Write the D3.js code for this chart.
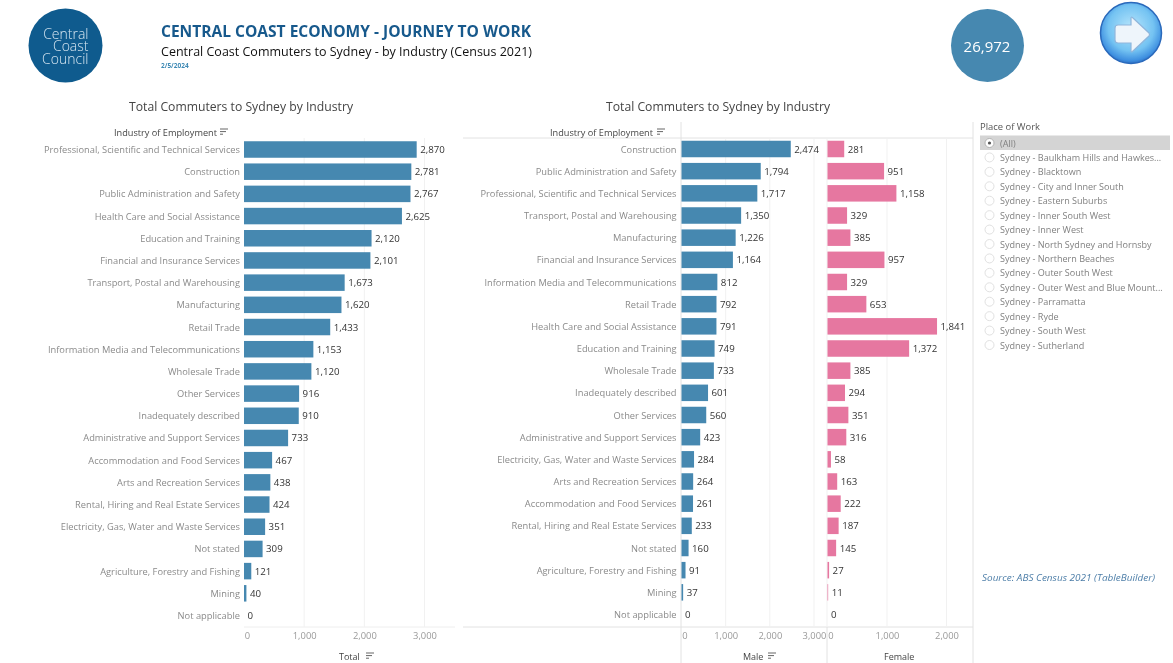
<!DOCTYPE html>
<html><head><meta charset="utf-8">
<script src="https://d3js.org/d3.v7.min.js"></script>
<style>
html,body{margin:0;padding:0;background:#fff}
svg{display:block;filter:blur(0.35px)}
text{font-family:"Open Sans",sans-serif}
</style></head><body>
<svg id="c" width="1173" height="663"></svg>
<script>
const totalIndustries=["Professional, Scientific and Technical Services","Construction","Public Administration and Safety","Health Care and Social Assistance","Education and Training","Financial and Insurance Services","Transport, Postal and Warehousing","Manufacturing","Retail Trade","Information Media and Telecommunications","Wholesale Trade","Other Services","Inadequately described","Administrative and Support Services","Accommodation and Food Services","Arts and Recreation Services","Rental, Hiring and Real Estate Services","Electricity, Gas, Water and Waste Services","Not stated","Agriculture, Forestry and Fishing","Mining","Not applicable"];
const totalValues=[2870,2781,2767,2625,2120,2101,1673,1620,1433,1153,1120,916,910,733,467,438,424,351,309,121,40,0];
const genderIndustries=["Construction","Public Administration and Safety","Professional, Scientific and Technical Services","Transport, Postal and Warehousing","Manufacturing","Financial and Insurance Services","Information Media and Telecommunications","Retail Trade","Health Care and Social Assistance","Education and Training","Wholesale Trade","Inadequately described","Other Services","Administrative and Support Services","Electricity, Gas, Water and Waste Services","Arts and Recreation Services","Accommodation and Food Services","Rental, Hiring and Real Estate Services","Not stated","Agriculture, Forestry and Fishing","Mining","Not applicable"];
const maleValues=[2474,1794,1717,1350,1226,1164,812,792,791,749,733,601,560,423,284,264,261,233,160,91,37,0];
const femaleValues=[281,951,1158,329,385,957,329,653,1841,1372,385,294,351,316,58,163,222,187,145,27,11,0];
const places=["(All)","Sydney - Baulkham Hills and Hawkes...","Sydney - Blacktown","Sydney - City and Inner South","Sydney - Eastern Suburbs","Sydney - Inner South West","Sydney - Inner West","Sydney - North Sydney and Hornsby","Sydney - Northern Beaches","Sydney - Outer South West","Sydney - Outer West and Blue Mount...","Sydney - Parramatta","Sydney - Ryde","Sydney - South West","Sydney - Sutherland"];
const logoLines=["Central","Coast","Council"];
const totalTicks=[0,1000,2000,3000], maleTicks=[0,1000,2000,3000], femaleTicks=[0,1000,2000];
const grandTotal=26972;

const BLUE="#4688b0", PINK="#e677a0", fmt=d3.format(",");
const svg=d3.select("#c");
const defs=svg.append("defs");
const g1=defs.append("radialGradient").attr("id","btn").attr("cx","0.5").attr("cy","0.42").attr("r","0.6");
g1.append("stop").attr("offset","0").attr("stop-color","#b8e6fc");
g1.append("stop").attr("offset","0.62").attr("stop-color","#74c3f2");
g1.append("stop").attr("offset","0.88").attr("stop-color","#3f90e0");
g1.append("stop").attr("offset","1").attr("stop-color","#2566bd");

function txt(x,y,s,o={}){
  const t=svg.append("text").attr("x",x).attr("y",y).text(s)
   .attr("font-size",o.size||10).attr("fill",o.fill||"#333")
   .attr("text-anchor",o.anchor||"start").attr("dominant-baseline","central");
  if(o.weight)t.attr("font-weight",o.weight);
  if(o.style)t.attr("font-style",o.style);
  if(o.len)t.attr("textLength",o.len).attr("lengthAdjust","spacingAndGlyphs");
  return t;
}
function sortIcon(x,y){
  [[0,8],[0,6],[0,3]].forEach((d,i)=>svg.append("line").attr("x1",x+d[0]).attr("x2",x+d[1]).attr("y1",y+i*2.6).attr("y2",y+i*2.6).attr("stroke","#555").attr("stroke-width",.9));
}
// header
svg.append("circle").attr("cx",65.5).attr("cy",45.5).attr("r",37).attr("fill","#0f5b8e");
const logo=svg.append("text").attr("font-size",14).attr("font-weight",300).attr("fill","#d5e5f0").attr("text-anchor","end");
logo.selectAll("tspan").data(logoLines).join("tspan").attr("x",88.5).attr("y",(d,i)=>38.5+i*12.5).text(d=>d);
txt(161,31,"CENTRAL COAST ECONOMY - JOURNEY TO WORK",{size:16,fill:"#17598c",weight:700,len:370});
txt(161,51,"Central Coast Commuters to Sydney - by Industry (Census 2021)",{size:13,fill:"#111",len:371});
txt(161,65,"2/5/2024",{size:6.5,fill:"#3f8ab5",weight:700});
svg.append("circle").attr("cx",987.5).attr("cy",45.5).attr("r",36.5).attr("fill",BLUE);
txt(987,46,fmt(grandTotal),{size:15,fill:"#fff",anchor:"middle"});
svg.append("circle").attr("cx",1131).attr("cy",33).attr("r",30.5).attr("fill","url(#btn)").attr("stroke","#2a69bb").attr("stroke-width",1.5);
svg.append("path").attr("d","M1118 25 H1131 V18 Q1131 16 1133 18 L1149 33 Q1150 34.5 1149 36 L1133 51 Q1131 53 1131 51 V43 H1118 Q1115 43 1115 40 V28 Q1115 25 1118 25Z").attr("fill","#eef5fb").attr("stroke","#8fb6dc").attr("stroke-width",1.2);
// section titles
txt(129,106,"Total Commuters to Sydney by Industry",{size:12.5,fill:"#444",len:224});
txt(606,106,"Total Commuters to Sydney by Industry",{size:12.5,fill:"#444",len:224});
// frame lines
const rule=(x1,y1,x2,y2,c="#e2e2e2")=>svg.append("line").attr("x1",x1).attr("y1",y1).attr("x2",x2).attr("y2",y2).attr("stroke",c).attr("stroke-width",1);
rule(463,138,973,138); rule(463,627,973,627); rule(244,627,455,627,"#eeeeee");
rule(681,122,681,663); rule(827,627,827,663); rule(973,122,973,663); rule(827,138,827,627,"#f1f1f1");

function panel(cfg){
  const x=d3.scaleLinear().domain([0,cfg.ticks[cfg.ticks.length-1]]).range([cfg.x0,cfg.x1]);
  const y=d3.scalePoint().domain(cfg.cats).range(cfg.yr);
  const barH=16.5;
  cfg.ticks.slice(1).forEach(t=>rule(x(t),cfg.gridTop,x(t),627,"#f1f1f1"));
  const g=svg.append("g");
  g.selectAll("rect").data(cfg.vals).join("rect")
   .attr("x",cfg.x0).attr("y",(d,i)=>y(cfg.cats[i])-barH/2)
   .attr("width",d=>x(d)-cfg.x0).attr("height",barH).attr("fill",cfg.color);
  svg.append("g").selectAll("text").data(cfg.vals).join("text")
   .attr("x",d=>x(d)+3.5).attr("y",(d,i)=>y(cfg.cats[i])).attr("dominant-baseline","central")
   .attr("font-size",9.7).attr("fill","#333").text(d=>fmt(d));
  if(cfg.showCats) svg.append("g").selectAll("text").data(cfg.cats).join("text")
   .attr("x",cfg.labelX).attr("y",d=>y(d)).attr("text-anchor","end").attr("dominant-baseline","central")
   .attr("font-size",9.3).attr("fill","#8a8a8a").text(d=>d);
  const ax=svg.append("g").attr("transform","translate(0,627)")
    .call(d3.axisBottom(x).tickValues(cfg.ticks).tickSize(0).tickPadding(5).tickFormat(fmt));
  ax.select(".domain").remove();
  ax.selectAll("text").attr("font-size",9.4).attr("fill","#9a9a9a").attr("font-family",'"Open Sans",sans-serif')
    .attr("dx",d=>d===0?3:0);
}
panel({cats:totalIndustries,vals:totalValues,ticks:totalTicks,x0:244,x1:424.5,yr:[149.5,615.5],color:BLUE,showCats:true,labelX:240,gridTop:138});
panel({cats:genderIndustries,vals:maleValues,ticks:maleTicks,x0:681.5,x1:814,yr:[149,614.5],color:BLUE,showCats:true,labelX:676.5,gridTop:138});
panel({cats:genderIndustries,vals:femaleValues,ticks:femaleTicks,x0:827.5,x1:946.5,yr:[149,614.5],color:PINK,showCats:false,gridTop:138});
// axis & field titles
txt(114,132,"Industry of Employment",{size:9,fill:"#444",len:103}); sortIcon(220,129);
txt(550,132,"Industry of Employment",{size:9,fill:"#444",len:103}); sortIcon(657,129);
txt(339,656.5,"Total",{size:9,fill:"#444"}); sortIcon(366,653);
txt(743,656.5,"Male",{size:9,fill:"#444"}); sortIcon(768,653);
txt(884,656.5,"Female",{size:9,fill:"#444"});
// filter
txt(980,126,"Place  of Work",{size:9,fill:"#555",len:60});
svg.append("rect").attr("x",980).attr("y",135.5).attr("width",190).attr("height",14.5).attr("fill","#d4d4d4");
const py=d3.scalePoint().domain(places).range([143,345]);
places.forEach((p,i)=>{
  svg.append("circle").attr("cx",989.5).attr("cy",py(p)).attr("r",4.5).attr("fill","#fff").attr("stroke",i?"#dcdcdc":"#aaa").attr("stroke-width",.9);
  if(!i) svg.append("circle").attr("cx",989.5).attr("cy",py(p)).attr("r",1.6).attr("fill","#555");
  txt(1000,py(p),p,{size:9.05,fill:"#808080"});
});
txt(982,577,"Source: ABS Census 2021 (TableBuilder)",{size:9,fill:"#4d7ea8",style:"italic",len:173});
</script></body></html>
